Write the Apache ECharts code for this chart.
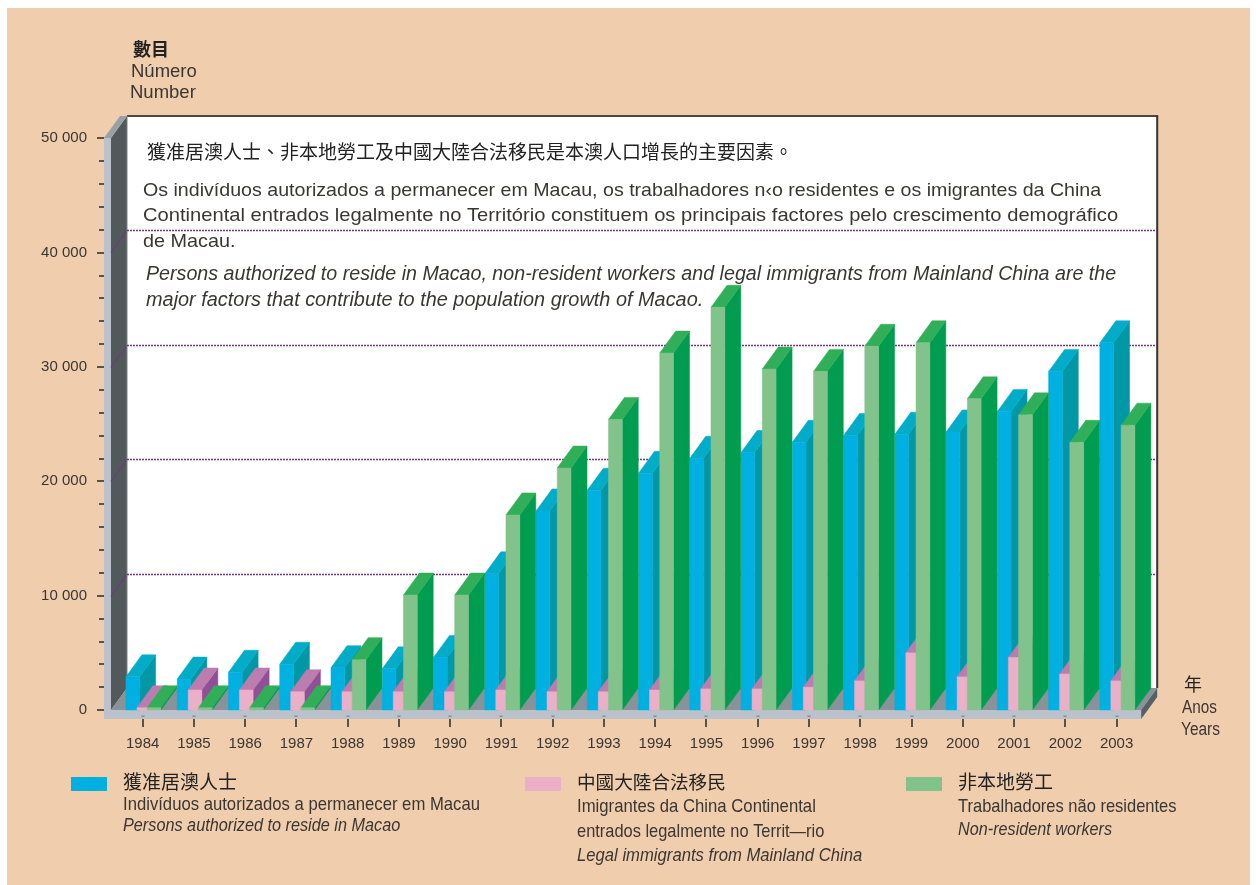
<!DOCTYPE html>
<html>
<head>
<meta charset="utf-8">
<style>
html,body{margin:0;padding:0;background:#fff;}
#main{width:1256px;height:885px;}
</style>
<script src="https://cdn.jsdelivr.net/npm/echarts@6/dist/echarts.min.js"></script>
</head>
<body>
<div id="main"></div>
<script>
// 年份
const years = ['1984','1985','1986','1987','1988','1989','1990','1991','1992','1993','1994','1995','1996','1997','1998','1999','2000','2001','2002','2003'];
// 獲准居澳人士
const authorized = [2900,2700,3300,4000,3700,3600,4600,11900,17400,19200,20700,22000,22500,23400,24000,24100,24300,26100,29600,32100];
// 中國大陸合法移民
const immigrants = [200,1750,1750,1600,1600,1600,1600,1750,1600,1600,1750,1850,1850,2000,2550,5000,2900,4600,3150,2550];
// 非本地勞工
const workers = [200,200,200,200,4400,10050,10050,17050,21150,25400,31200,35200,29800,29600,31800,32100,27200,25800,23400,24900];
const gridTicks = [10000,20000,30000,40000];
const yMax = 50000;

const FONT = '"Liberation Sans", Arial, sans-serif';
const CJK = '"Noto Sans CJK TC", sans-serif';
const INK = '#3a3634';
const DX = 16, DY = -22;   // 立體深度

// 立體柱，from/to 是相對類目中心的像素
function bar3d(from, to, front, side, top) {
  return function (params, api) {
    const p = api.coord([api.value(0), api.value(1)]);
    const base = api.coord([api.value(0), 0]);
    const x0 = p[0] + from, x1 = p[0] + to;
    const mk = (pts, fill) => ({ type: 'polygon', shape: { points: pts }, style: { fill: fill, stroke: fill, lineWidth: 0.5 } });
    return {
      type: 'group',
      children: [
        mk([[x1, p[1]], [x1 + DX, p[1] + DY], [x1 + DX, base[1] + DY], [x1, base[1]]], side),
        mk([[x0, p[1]], [x0 + DX, p[1] + DY], [x1 + DX, p[1] + DY], [x1, p[1]]], top),
        mk([[x0, p[1]], [x1, p[1]], [x1, base[1]], [x0, base[1]]], front)
      ]
    };
  };
}

// 背景牆和地板，跟着坐標軸走
function renderWall(params, api) {
  const size = api.size([1, 0]);
  const zero = api.coord([0, 0]);
  const top = api.coord([0, yMax]);
  const left = zero[0] - size[0] / 2;
  const right = api.coord([years.length - 1, 0])[0] + size[0] / 2 - 1;
  const wx = left - 6, fx = wx - 7;  // 深灰牆 / 淺灰柱 的 x
  const by = zero[1], ty = top[1];
  const poly = (pts, fill) => ({ type: 'polygon', shape: { points: pts }, style: { fill: fill } });
  const line = (a, b, stroke, w) => ({ type: 'line', shape: { x1: a[0], y1: a[1], x2: b[0], y2: b[1] }, style: { stroke: stroke, lineWidth: w } });
  return {
    type: 'group',
    children: [
      poly([[wx + DX, ty + DY], [right + DX, ty + DY], [right + DX, by + DY], [wx + DX, by + DY]], '#fff'),
      poly([[wx, ty], [wx + DX, ty + DY], [wx + DX, by + DY], [wx, by]], '#52595b'),
      poly([[fx, ty], [wx, ty], [wx + DX, ty + DY], [fx + DX, ty + DY]], '#98a2a6'),
      poly([[fx, ty], [wx, ty], [wx, by], [fx, by]], '#bcc2cb'),
      poly([[wx, by], [wx + DX, by + DY], [right + DX, by + DY], [right, by]], '#8a9299'),
      poly([[fx, by], [right, by], [right, by + 9], [fx, by + 9]], '#bcc2cb'),
      poly([[right, by], [right + DX, by + DY], [right + DX, by + DY + 9], [right, by + 9]], '#566068'),
      line([wx + DX, ty + DY], [right + DX + 1, ty + DY], '#4f4640', 2),
      line([right + DX, ty + DY], [right + DX, by + DY], '#333', 2),
      line([wx + DX, ty + DY], [wx + DX, by + DY], '#7c8284', 1)
    ]
  };
}

function renderGridLine(params, api) {
  const v = api.value(0);
  const zero = api.coord([0, 0]);
  const y = Math.round(api.coord([0, v])[1]) + 0.5;
  const size = api.size([1, 0]);
  const wx = zero[0] - size[0] / 2 - 6;
  const right = api.coord([years.length - 1, 0])[0] + size[0] / 2 - 1;
  const dash = { stroke: '#6f3a80', lineWidth: 1.5, lineDash: [2, 1] };
  return {
    type: 'group',
    children: [
      { type: 'line', shape: { x1: wx, y1: y, x2: wx + DX, y2: y + DY }, style: dash },
      { type: 'line', shape: { x1: wx + DX, y1: y + DY, x2: right + DX, y2: y + DY }, style: dash }
    ]
  };
}

// 底座上的小灰點和下面的刻度
function renderBaseMark(params, api) {
  const p = api.coord([api.value(0), 0]);
  const x = Math.round(p[0]);
  return {
    type: 'group',
    children: [
      { type: 'rect', shape: { x: x - 1.5, y: p[1] + 5.5, width: 3, height: 1.5 }, style: { fill: '#868d94' } },
      { type: 'line', shape: { x1: x, y1: p[1] + 9, x2: x, y2: p[1] + 17 }, style: { stroke: '#2a2a2a', lineWidth: 1.5 } }
    ]
  };
}

function label(x, y, text, size, opt, sx) {
  return {
    type: 'text', x: x, y: y, z: 5, scaleX: sx || 1,
    style: Object.assign({ text: text, fontSize: size, fontFamily: FONT, fill: INK, verticalAlign: 'middle' }, opt || {})
  };
}
const swatch = (x, color) => ({ type: 'rect', z: 5, shape: { x: x, y: 777, width: 36, height: 14 }, style: { fill: color } });
const cjk = { fontFamily: CJK, fill: '#222' };
const italic = { fontStyle: 'italic' };

const graphics = [
  { type: 'rect', z: -10, shape: { x: 7, y: 8, width: 1243, height: 877 }, style: { fill: '#f0cdac' } },
  label(133, 49, '數目', 18, { fontFamily: CJK, fontWeight: 'bold', fill: '#222' }),
  label(131, 72, 'Número', 18.5),
  label(130, 93, 'Number', 18.5),
  label(147, 152, '獲准居澳人士、非本地勞工及中國大陸合法移民是本澳人口增長的主要因素。', 19, cjk),
  label(143, 191, 'Os indivíduos autorizados a permanecer em Macau, os trabalhadores n‹o residentes e os imigrantes da China', 18.5, null, 1.06),
  label(143, 216, 'Continental entrados legalmente no Território constituem os principais factores pelo crescimento demográfico', 18.5, null, 1.09),
  label(143, 242, 'de Macau.', 18.5, null, 1.07),
  label(146, 275, 'Persons authorized to reside in Macao, non-resident workers and legal immigrants from Mainland China are the', 19.5, italic, 1.008),
  label(146, 301, 'major factors that contribute to the population growth of Macao.', 19.5, italic, 1.02),
  label(1184, 684, '年', 18, cjk),
  label(1182, 708, 'Anos', 18, null, 0.85),
  label(1181, 730, 'Years', 18, null, 0.86),
  swatch(71, '#00b0e0'),
  label(123, 782, '獲准居澳人士', 19, cjk),
  label(123, 805, 'Indivíduos autorizados a permanecer em Macau', 19, null, 0.878),
  label(123, 826, 'Persons authorized to reside in Macao', 19, italic, 0.855),
  swatch(525, '#ebafc8'),
  label(577, 782, '中國大陸合法移民', 18.6, cjk),
  label(577, 807, 'Imigrantes da China Continental', 19, null, 0.88),
  label(577, 832, 'entrados legalmente no Territ—rio', 19, null, 0.864),
  label(577, 856, 'Legal immigrants from Mainland China', 19, italic, 0.877),
  swatch(906, '#82c38c'),
  label(958, 782, '非本地勞工', 19, cjk),
  label(958, 807, 'Trabalhadores não residentes', 19, null, 0.868),
  label(958, 830, 'Non-resident workers', 19, italic, 0.853)
];

const myChart = echarts.init(document.getElementById('main'), null, { renderer: 'canvas' });
const option = {
  animation: false,
  backgroundColor: 'transparent',
  graphic: graphics,
  grid: { left: 117, top: 138, width: 1025.2, height: 572 },
  xAxis: {
    type: 'category',
    data: years,
    offset: 9,
    axisLine: { show: false },
    axisTick: { show: false },
    axisLabel: { margin: 17, fontFamily: FONT, fontSize: 15, color: INK }
  },
  yAxis: {
    type: 'value',
    min: 0,
    max: yMax,
    interval: 10000,
    offset: 13,
    splitLine: { show: false },
    axisLine: { show: false },
    axisTick: { show: true, length: 7, lineStyle: { color: '#2a2a2a', width: 1.5 } },
    minorTick: { show: true, splitNumber: 5, length: 5, lineStyle: { color: '#2a2a2a', width: 1.5 } },
    axisLabel: {
      margin: 17,
      fontFamily: FONT,
      fontSize: 15,
      color: INK,
      formatter: v => String(v).replace(/(\d)(?=(\d{3})$)/, '$1 ')
    }
  },
  series: [
    { type: 'custom', silent: true, z: 1, clip: false, data: [[0]], renderItem: renderWall },
    { type: 'custom', silent: true, z: 2, clip: false, data: gridTicks.map(v => [v]), renderItem: renderGridLine },
    { type: 'custom', silent: true, z: 2, clip: false, data: years.map((y, i) => [i]), renderItem: renderBaseMark },
    { name: '獲准居澳人士', type: 'custom', z: 3, clip: false, data: authorized.map((v, i) => [i, v]), encode: { x: 0, y: 1 },
      renderItem: bar3d(-16.7, -3, '#00b0e0', '#0097a7', '#00acc8') },
    { name: '中國大陸合法移民', type: 'custom', z: 3, clip: false, data: immigrants.map((v, i) => [i, v]), encode: { x: 0, y: 1 },
      renderItem: bar3d(-5.7, 8, '#ebafc8', '#904f96', '#bd7cae') },
    { name: '非本地勞工', type: 'custom', z: 3, clip: false, data: workers.map((v, i) => [i, v]), encode: { x: 0, y: 1 },
      renderItem: bar3d(4.5, 18.3, '#82c38c', '#009c50', '#30ae58') }
  ]
};
option && myChart.setOption(option);
</script>
</body>
</html>
